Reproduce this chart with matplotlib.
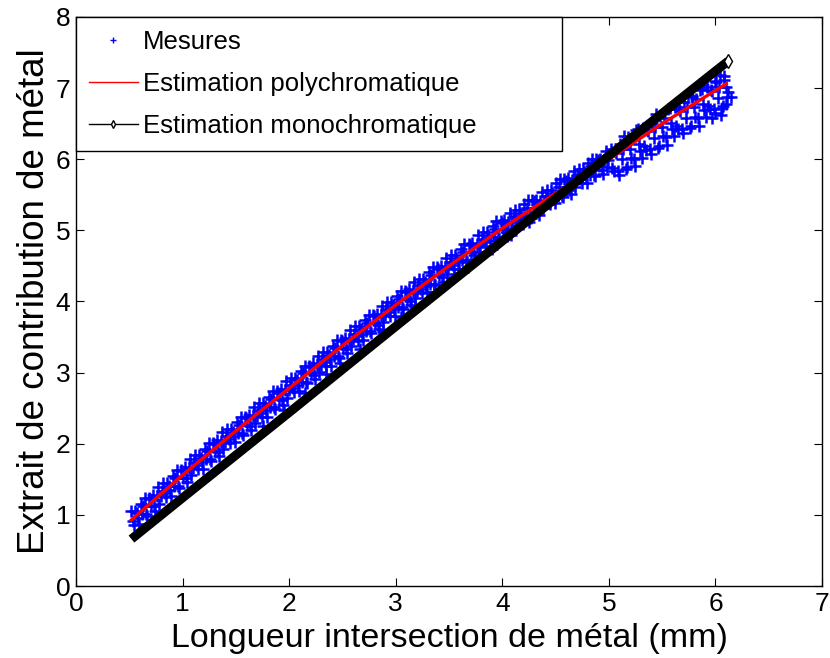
import matplotlib
matplotlib.use("Agg")
import matplotlib.pyplot as plt
from matplotlib.lines import Line2D

mes_x = [0.52, 0.545, 0.57, 0.595, 0.62, 0.645, 0.67, 0.695, 0.72, 0.745, 0.77, 0.795,
         0.82, 0.845, 0.87, 0.895, 0.92, 0.945, 0.97, 0.995, 1.02, 1.045, 1.07, 1.095,
         1.12, 1.145, 1.17, 1.195, 1.22, 1.245, 1.27, 1.295, 1.32, 1.345, 1.37, 1.395,
         1.42, 1.445, 1.47, 1.495, 1.52, 1.545, 1.57, 1.595, 1.62, 1.645, 1.67, 1.695,
         1.72, 1.745, 1.77, 1.795, 1.82, 1.845, 1.87, 1.895, 1.92, 1.945, 1.97, 1.995,
         2.02, 2.045, 2.07, 2.095, 2.12, 2.145, 2.17, 2.195, 2.22, 2.245, 2.27, 2.295,
         2.32, 2.345, 2.37, 2.395, 2.42, 2.445, 2.47, 2.495, 2.52, 2.545, 2.57, 2.595,
         2.62, 2.645, 2.67, 2.695, 2.72, 2.745, 2.77, 2.795, 2.82, 2.845, 2.87, 2.895,
         2.92, 2.945, 2.97, 2.995, 3.02, 3.045, 3.07, 3.095, 3.12, 3.145, 3.17, 3.195,
         3.22, 3.245, 3.27, 3.295, 3.32, 3.345, 3.37, 3.395, 3.42, 3.445, 3.47, 3.495,
         3.52, 3.545, 3.57, 3.595, 3.62, 3.645, 3.67, 3.695, 3.72, 3.745, 3.77, 3.795,
         3.82, 3.845, 3.87, 3.895, 3.92, 3.945, 3.97, 3.995, 4.02, 4.045, 4.07, 4.095,
         4.12, 4.145, 4.17, 4.195, 4.22, 4.245, 4.27, 4.295, 4.32, 4.345, 4.37, 4.395,
         4.42, 4.445, 4.47, 4.495, 4.52, 4.545, 4.57, 4.595, 4.62, 4.645, 4.67, 4.695,
         4.72, 4.745, 4.77, 4.795, 4.82, 4.845, 4.87, 4.895, 4.92, 4.945, 4.97, 4.995,
         5.02, 5.045, 5.07, 5.095, 5.12, 5.145, 5.17, 5.195, 5.22, 5.245, 5.27, 5.295,
         5.32, 5.345, 5.37, 5.395, 5.42, 5.445, 5.47, 5.495, 5.52, 5.545, 5.57, 5.595,
         5.62, 5.645, 5.67, 5.695, 5.72, 5.745, 5.77, 5.795, 5.82, 5.845, 5.87, 5.895,
         5.92, 5.945, 5.97, 5.995, 6.02, 6.045, 6.07, 6.095,
         1.75, 1.95, 2.15, 2.35, 2.48, 2.66, 2.88, 3.05, 3.18, 3.36, 3.55, 3.68,
         3.90, 4.08, 4.25,
         6.15, 6.08, 6.05, 5.97, 6.10, 5.88, 6.12, 5.78, 6.00]
mes_y = [1.06, 0.86, 1.02, 0.87, 1.01, 1.24, 0.99, 1.22, 1.28, 1.06, 1.39, 1.26,
         1.45, 1.25, 1.41, 1.26, 1.40, 1.63, 1.38, 1.61, 1.68, 1.46, 1.79, 1.66,
         1.84, 1.64, 1.80, 1.65, 1.78, 2.01, 1.76, 1.99, 2.05, 1.83, 2.16, 2.03,
         2.21, 2.01, 2.17, 2.02, 2.15, 2.38, 2.13, 2.36, 2.41, 2.19, 2.52, 2.39,
         2.57, 2.37, 2.53, 2.38, 2.51, 2.74, 2.49, 2.72, 2.77, 2.55, 2.88, 2.75,
         2.93, 2.73, 2.89, 2.74, 2.87, 3.10, 2.85, 3.08, 3.13, 2.91, 3.24, 3.11,
         3.29, 3.09, 3.25, 3.10, 3.23, 3.46, 3.21, 3.44, 3.49, 3.27, 3.60, 3.47,
         3.65, 3.45, 3.61, 3.46, 3.58, 3.81, 3.56, 3.79, 3.83, 3.61, 3.94, 3.81,
         3.99, 3.79, 3.95, 3.80, 3.92, 4.15, 3.90, 4.13, 4.17, 3.95, 4.28, 4.15,
         4.32, 4.12, 4.28, 4.13, 4.25, 4.48, 4.23, 4.46, 4.50, 4.28, 4.61, 4.48,
         4.65, 4.45, 4.61, 4.46, 4.58, 4.81, 4.56, 4.79, 4.82, 4.60, 4.93, 4.80,
         4.97, 4.77, 4.93, 4.78, 4.90, 5.13, 4.88, 5.11, 5.14, 4.92, 5.25, 5.12,
         5.28, 5.08, 5.24, 5.09, 5.20, 5.43, 5.18, 5.41, 5.43, 5.21, 5.54, 5.41,
         5.57, 5.37, 5.53, 5.38, 5.49, 5.72, 5.47, 5.70, 5.73, 5.51, 5.84, 5.71,
         5.86, 5.66, 5.82, 5.67, 5.78, 6.01, 5.76, 5.99, 6.01, 5.79, 6.12, 5.99,
         6.14, 5.83, 6.09, 5.78, 6.00, 6.33, 5.89, 6.15, 6.28, 5.90, 6.42, 6.12,
         6.44, 6.13, 6.39, 6.08, 6.30, 6.63, 6.19, 6.45, 6.58, 6.20, 6.72, 6.42,
         6.73, 6.42, 6.68, 6.37, 6.58, 6.91, 6.47, 6.73, 6.85, 6.47, 6.99, 6.69,
         7.01, 6.70, 6.96, 6.65, 6.86, 7.19, 6.75, 7.01,
         2.25, 2.48, 2.72, 2.98, 3.13, 3.33, 3.58, 3.78, 3.93, 4.13, 4.34, 4.49,
         4.74, 4.93, 5.12,
         6.88, 7.12, 6.62, 6.58, 6.78, 7.05, 6.95, 6.88, 7.10]

# mesures, second passage (entre les premieres)
mes2_x = [0.533, 0.558, 0.583, 0.608, 0.633, 0.658, 0.683, 0.708, 0.733, 0.758, 0.783, 0.808,
          0.833, 0.858, 0.883, 0.908, 0.933, 0.958, 0.983, 1.008, 1.033, 1.058, 1.083, 1.108,
          1.133, 1.158, 1.183, 1.208, 1.233, 1.258, 1.283, 1.308, 1.333, 1.358, 1.383, 1.408,
          1.433, 1.458, 1.483, 1.508, 1.533, 1.558, 1.583, 1.608, 1.633, 1.658, 1.683, 1.708,
          1.733, 1.758, 1.783, 1.808, 1.833, 1.858, 1.883, 1.908, 1.933, 1.958, 1.983, 2.008,
          2.033, 2.058, 2.083, 2.108, 2.133, 2.158, 2.183, 2.208, 2.233, 2.258, 2.283, 2.308,
          2.333, 2.358, 2.383, 2.408, 2.433, 2.458, 2.483, 2.508, 2.533, 2.558, 2.583, 2.608,
          2.633, 2.658, 2.683, 2.708, 2.733, 2.758, 2.783, 2.808, 2.833, 2.858, 2.883, 2.908,
          2.933, 2.958, 2.983, 3.008, 3.033, 3.058, 3.083, 3.108, 3.133, 3.158, 3.183, 3.208,
          3.233, 3.258, 3.283, 3.308, 3.333, 3.358, 3.383, 3.408, 3.433, 3.458, 3.483, 3.508,
          3.533, 3.558, 3.583, 3.608, 3.633, 3.658, 3.683, 3.708, 3.733, 3.758, 3.783, 3.808,
          3.833, 3.858, 3.883, 3.908, 3.933, 3.958, 3.983, 4.008, 4.033, 4.058, 4.083, 4.108,
          4.133, 4.158, 4.183, 4.208, 4.233, 4.258, 4.283, 4.308, 4.333, 4.358, 4.383, 4.408,
          4.433, 4.458, 4.483, 4.508, 4.533, 4.558, 4.583, 4.608, 4.633, 4.658, 4.683, 4.708,
          4.733, 4.758, 4.783, 4.808, 4.833, 4.858, 4.883, 4.908, 4.933, 4.958, 4.983, 5.008,
          5.033, 5.058, 5.083, 5.108, 5.133, 5.158, 5.183, 5.208, 5.233, 5.258, 5.283, 5.308,
          5.333, 5.358, 5.383, 5.408, 5.433, 5.458, 5.483, 5.508, 5.533, 5.558, 5.583, 5.608,
          5.633, 5.658, 5.683, 5.708, 5.733, 5.758, 5.783, 5.808, 5.833, 5.858, 5.883, 5.908,
          5.933, 5.958, 5.983, 6.008, 6.033, 6.058, 6.083, 6.108]
mes2_y = [0.92, 1.06, 0.96, 1.15, 1.13, 1.01, 1.24, 1.13, 1.12, 1.26, 1.16, 1.34,
          1.31, 1.45, 1.35, 1.54, 1.52, 1.40, 1.63, 1.52, 1.52, 1.66, 1.56, 1.74,
          1.70, 1.84, 1.74, 1.93, 1.90, 1.78, 2.01, 1.90, 1.89, 2.03, 1.93, 2.11,
          2.07, 2.21, 2.11, 2.30, 2.27, 2.15, 2.38, 2.27, 2.25, 2.39, 2.29, 2.47,
          2.43, 2.57, 2.47, 2.66, 2.63, 2.51, 2.74, 2.63, 2.61, 2.75, 2.65, 2.83,
          2.79, 2.93, 2.83, 3.02, 2.99, 2.87, 3.10, 2.99, 2.97, 3.11, 3.01, 3.19,
          3.15, 3.29, 3.19, 3.38, 3.35, 3.23, 3.46, 3.35, 3.33, 3.47, 3.37, 3.55,
          3.51, 3.65, 3.55, 3.74, 3.70, 3.58, 3.81, 3.70, 3.67, 3.81, 3.71, 3.89,
          3.85, 3.99, 3.89, 4.08, 4.04, 3.92, 4.15, 4.04, 4.01, 4.15, 4.05, 4.23,
          4.18, 4.32, 4.22, 4.41, 4.37, 4.25, 4.48, 4.37, 4.34, 4.48, 4.38, 4.56,
          4.51, 4.65, 4.55, 4.74, 4.70, 4.58, 4.81, 4.70, 4.66, 4.80, 4.70, 4.88,
          4.83, 4.97, 4.87, 5.06, 5.02, 4.90, 5.13, 5.02, 4.98, 5.12, 5.02, 5.20,
          5.14, 5.28, 5.18, 5.37, 5.32, 5.20, 5.43, 5.32, 5.27, 5.41, 5.31, 5.49,
          5.43, 5.57, 5.47, 5.66, 5.61, 5.49, 5.72, 5.61, 5.57, 5.71, 5.61, 5.79,
          5.72, 5.86, 5.76, 5.95, 5.90, 5.78, 6.01, 5.90, 5.85, 5.99, 5.89, 6.07,
          5.88, 6.11, 5.84, 6.21, 6.15, 5.86, 6.31, 6.02, 6.01, 6.41, 6.21, 6.02,
          6.18, 6.41, 6.14, 6.51, 6.45, 6.16, 6.61, 6.32, 6.31, 6.71, 6.51, 6.32,
          6.47, 6.70, 6.43, 6.80, 6.73, 6.44, 6.89, 6.60, 6.58, 6.98, 6.78, 6.59,
          6.75, 6.98, 6.71, 7.08, 7.01, 6.72, 7.17, 6.88]

# estimation polychromatique
poly_x = [0.52, 1.0, 1.5, 2.0, 2.5, 3.0, 3.5, 4.0, 4.5, 5.0, 5.5, 6.1]
poly_y = [0.93, 1.56, 2.18, 2.78, 3.38, 3.95, 4.50, 5.03, 5.52, 6.00, 6.50, 7.06]

# estimation monochromatique
mono_x = [0.52, 1.0, 2.0, 3.0, 4.0, 5.0, 6.0, 6.12]
mono_y = [0.66, 1.24, 2.44, 3.65, 4.85, 6.05, 7.24, 7.38]

plt.rcParams['font.family'] = ['Liberation Sans', 'DejaVu Sans']

fig = plt.figure(figsize=(8.3, 6.58), dpi=100)
ax = fig.add_axes([0.0916, 0.1094, 0.8988, 0.8648])

ax.plot(mes_x + mes2_x, mes_y + mes2_y, '+', color=(0, 0, 1), ms=9, mew=1.8)
ax.plot(poly_x, poly_y, '-', color=(1, 0, 0), lw=2.4)
ax.plot(mono_x, mono_y, '-', color='k', lw=6.5, solid_capstyle='butt',
        marker='d', ms=7, mfc='white', mec='k', markevery=[len(mono_x) - 1])

ax.set_xlim(0, 7)
ax.set_ylim(0, 8)
ax.tick_params(direction='in', top=True, right=True, length=6, labelsize=19, pad=4)
for s in ax.spines.values():
    s.set_linewidth(1.0)

ax.set_xlabel('Longueur intersection de métal (mm)', fontsize=24.5, labelpad=5)
ax.set_ylabel('Extrait de contribution de métal', fontsize=26.5, labelpad=3)

handles = [
    Line2D([], [], ls='none', marker='+', color=(0, 0, 1), ms=5, mew=1),
    Line2D([], [], color=(1, 0, 0), lw=1),
    Line2D([], [], color='k', lw=1, marker='d', ms=4, mfc='white'),
]
labels = ['Mesures', 'Estimation polychromatique', 'Estimation monochromatique']
leg = ax.legend(handles, labels, loc='upper left', bbox_to_anchor=(0, 0.766, 0.651, 0.234),
                mode='expand', borderaxespad=0, fancybox=False, framealpha=1,
                edgecolor='k', fontsize=18.5, handlelength=1.9, handletextpad=0.2,
                labelspacing=0.7, borderpad=0.5)
leg.get_frame().set_linewidth(1.0)

fig.savefig('out.png', dpi=100)
